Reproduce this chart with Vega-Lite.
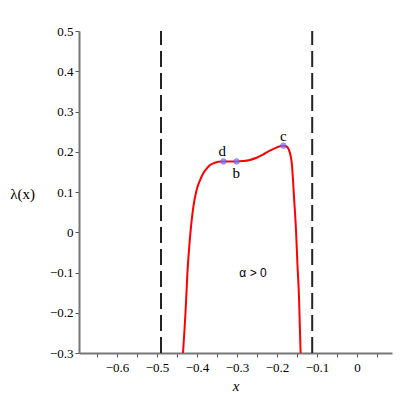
{
  "$schema": "https://vega.github.io/schema/vega-lite/v6.json",
  "width": 313,
  "height": 322,
  "autosize": "none",
  "padding": {"left": 79, "top": 31, "right": 8, "bottom": 47},
  "background": "white",
  "config": {"view": {"stroke": null}},
  "datasets": {
    "curve": [
      {"x": -0.435, "y": -0.30},
      {"x": -0.428, "y": -0.185},
      {"x": -0.424, "y": -0.102},
      {"x": -0.418, "y": -0.019},
      {"x": -0.409, "y": 0.064},
      {"x": -0.401, "y": 0.105},
      {"x": -0.392, "y": 0.130},
      {"x": -0.384, "y": 0.147},
      {"x": -0.375, "y": 0.159},
      {"x": -0.3675, "y": 0.167},
      {"x": -0.357, "y": 0.172},
      {"x": -0.347, "y": 0.175},
      {"x": -0.334, "y": 0.176},
      {"x": -0.318, "y": 0.176},
      {"x": -0.301, "y": 0.176},
      {"x": -0.285, "y": 0.177},
      {"x": -0.270, "y": 0.179},
      {"x": -0.251, "y": 0.185},
      {"x": -0.235, "y": 0.193},
      {"x": -0.2175, "y": 0.203},
      {"x": -0.200, "y": 0.211},
      {"x": -0.184, "y": 0.215},
      {"x": -0.176, "y": 0.213},
      {"x": -0.170, "y": 0.204},
      {"x": -0.166, "y": 0.190},
      {"x": -0.163, "y": 0.171},
      {"x": -0.160, "y": 0.130},
      {"x": -0.1575, "y": 0.088},
      {"x": -0.1525, "y": 0.006},
      {"x": -0.149, "y": -0.077},
      {"x": -0.145, "y": -0.160},
      {"x": -0.141, "y": -0.300}
    ],
    "pts": [
      {"x": -0.334, "y": 0.176, "name": "d", "lx": -0.337, "ly": 0.203},
      {"x": -0.301, "y": 0.176, "name": "b", "lx": -0.302, "ly": 0.147},
      {"x": -0.184, "y": 0.215, "name": "c", "lx": -0.184, "ly": 0.239}
    ],
    "vlines": [{"x": -0.49}, {"x": -0.112}],
    "note": [{"x": -0.26, "y": -0.1, "t": "α > 0"}]
  },
  "layer": [
    {
      "data": {"name": "vlines"},
      "mark": {"type": "rule", "color": "#222222", "strokeWidth": 2, "strokeDash": [16, 6]},
      "encoding": {
        "x": {"field": "x", "type": "quantitative", "scale": {"domain": [-0.695, 0.0875], "nice": false, "zero": false},
          "axis": {
            "tickCount": 20,
            "labelExpr": "(round(datum.value*20) % 2 == 0) ? format(datum.value, '~g') : ''",
            "labelOverlap": false, "labelFlush": false, "labelBound": false,
            "grid": false, "domainColor": "#777777", "domainWidth": 2, "tickColor": "#555555", "tickSize": 4, "tickWidth": 1,
            "labelFont": "serif", "labelFontSize": 13, "labelColor": "#000000", "labelPadding": 4,
            "title": "x", "titleFont": "serif", "titleFontStyle": "italic", "titleFontWeight": "normal", "titleFontSize": 15, "titleColor": "#000000", "titlePadding": 4
          }
        },
        "y": {"datum": -0.3, "type": "quantitative", "scale": {"domain": [-0.3, 0.5], "nice": false, "zero": false},
          "axis": {
            "values": [-0.3, -0.25, -0.2, -0.15, -0.1, -0.05, 0, 0.05, 0.1, 0.15, 0.2, 0.25, 0.3, 0.35, 0.4, 0.45, 0.5],
            "format": "~g",
            "labelExpr": "round(datum.value*20) % 2 == 0 ? datum.label : ''",
            "labelOverlap": false,
            "grid": false, "domainColor": "#777777", "domainWidth": 2, "tickColor": "#555555", "tickSize": 4, "tickWidth": 1,
            "labelFont": "serif", "labelFontSize": 13, "labelColor": "#000000", "labelPadding": 2,
            "title": "λ(x)", "titleAngle": 0, "titleX": -57, "titleY": 162, "titleAlign": "center", "titleBaseline": "middle",
            "titleFont": "serif", "titleFontWeight": "normal", "titleFontSize": 15, "titleColor": "#000000"
          }
        },
        "y2": {"datum": 0.5}
      }
    },
    {
      "data": {"name": "curve"},
      "mark": {"type": "line", "color": "#ff0000", "strokeWidth": 2, "interpolate": "monotone", "clip": true},
      "encoding": {
        "x": {"field": "x", "type": "quantitative"},
        "y": {"field": "y", "type": "quantitative"}
      }
    },
    {
      "data": {"name": "pts"},
      "mark": {"type": "point", "shape": "circle", "filled": true, "color": "#7777ff", "size": 30, "stroke": "#5555ff", "strokeWidth": 1},
      "encoding": {
        "x": {"field": "x", "type": "quantitative"},
        "y": {"field": "y", "type": "quantitative"}
      }
    },
    {
      "data": {"name": "pts"},
      "mark": {"type": "text", "font": "serif", "fontSize": 15, "color": "#000000", "baseline": "middle", "align": "center"},
      "encoding": {
        "x": {"field": "lx", "type": "quantitative"},
        "y": {"field": "ly", "type": "quantitative"},
        "text": {"field": "name"}
      }
    },
    {
      "data": {"name": "note"},
      "mark": {"type": "text", "font": "Liberation Sans", "fontSize": 12, "color": "#000000", "baseline": "middle", "align": "center"},
      "encoding": {
        "x": {"field": "x", "type": "quantitative"},
        "y": {"field": "y", "type": "quantitative"},
        "text": {"field": "t"}
      }
    }
  ]
}
